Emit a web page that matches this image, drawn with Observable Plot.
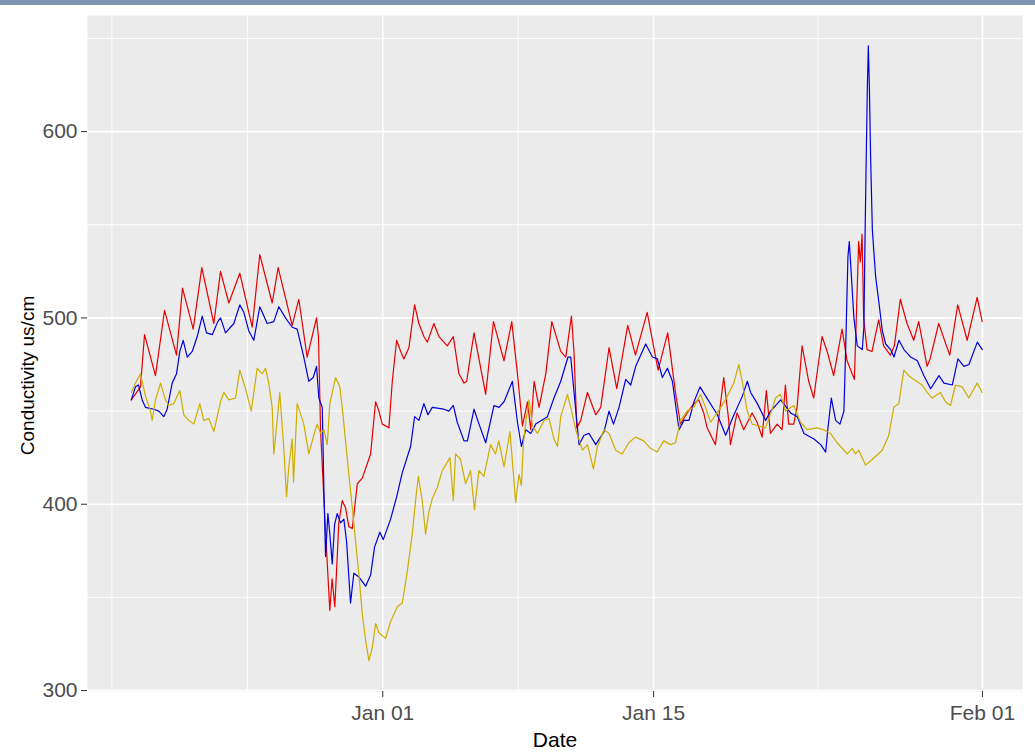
<!DOCTYPE html>
<html>
<head>
<meta charset="utf-8">
<script src="https://cdn.jsdelivr.net/npm/d3@7"></script>
<script src="https://cdn.jsdelivr.net/npm/@observablehq/plot@0.6"></script>
<style>
html, body { margin: 0; padding: 0; background: #ffffff; }
#bar { height: 5px; background: #7d95b3; }
#chart svg { display: block; }
</style>
</head>
<body>
<div id="bar"></div>
<div id="chart"></div>
<script>
// Series start time (UTC) and readings as [hours since start, conductivity]
const seriesStart = "2017-12-19T00:00Z";

const redSeries = [[0,456],[11.4,463],[16.4,491],[30,469],[41.2,504],[56.1,480],[63.5,516],[76.8,494],[87.5,527],[102.4,497],[110.7,525],[121,508],[134.6,524],[150,495],[159.4,534],[174.8,508],[182.2,527],[199.6,496],[207.8,510],[218.2,479],[229.8,500],[232.2,490],[234.8,440],[239.8,395],[246.3,343],[249.1,360],[252.5,345],[257.5,390],[261.7,402],[265.8,398],[269.9,388],[274.2,387],[280.4,411],[286.6,414],[296.9,427],[303.1,455],[307.2,450],[311.4,443],[319.6,441],[323.8,466],[329.2,488],[334.2,482],[338.2,478],[344.4,484],[351.5,507],[356.8,497],[363,490],[367.3,487],[375.4,497],[381.6,490],[392.1,485],[399.5,490],[406.5,470],[412.8,465],[416.1,466],[425.2,492],[439.7,459],[449.3,498],[462.4,477],[472,498],[479.1,470],[485.3,442],[491.5,455],[495.6,440],[499.7,466],[505.9,452],[514.2,470],[521.7,498],[532.8,482],[539,479],[546.1,501],[549.3,481],[552.7,441],[557.6,445],[565.9,460],[576.2,448],[582.4,452],[592.7,484],[602.3,462],[615.9,496],[625.5,480],[640,503],[653.6,472],[665.5,492],[675.1,460],[681.3,443],[689.6,449],[697.8,454],[704,456],[710.2,449],[714.4,441],[724.7,432],[735,468],[741.2,445],[743.3,432],[751.6,449],[759.8,440],[770.2,449],[776.4,444],[782.6,436],[787.9,461],[792.9,438],[801.2,443],[807.4,440],[811.5,464],[815.6,443],[821.8,443],[826,452],[832.2,485],[840.4,466],[846.6,457],[857,490],[863.3,482],[871.4,469],[881.8,494],[888,477],[897.1,467],[902.4,541],[904.5,530],[906.6,545],[908.6,500],[912.8,483],[919,482],[927.2,499],[933.4,485],[941.7,480],[946.7,485],[954.1,510],[962.4,497],[970.7,488],[976.9,498],[987.3,474],[991,478],[1001.7,497],[1015.4,480],[1025.3,507],[1037,488],[1049.4,511],[1055.6,498]];

const blueSeries = [[0,456],[5.2,463],[8.9,464],[13.5,456],[17.6,452],[27.9,451],[34.1,450],[40.3,447],[44.5,451],[50.7,465],[56.1,470],[60.2,482],[64.4,488],[69.4,479],[75.6,482],[81.8,490],[88,501],[93.3,492],[100.4,491],[107.3,498],[110.7,500],[116.9,492],[127.2,497],[134.6,507],[139.6,503],[145.8,493],[152,488],[159.4,506],[168.6,497],[176.8,498],[183,506],[191.3,500],[199.6,495],[205.8,494],[214,479],[220.2,466],[225.7,468],[229.8,474],[232.7,457],[236.9,452],[238.9,409],[241,372],[243.9,395],[246.3,384],[249.3,368],[252.2,389],[255.5,395],[259.6,390],[263.7,392],[267.1,380],[272,347],[276.1,363],[282.3,361],[290.7,356],[296.9,362],[301.8,377],[308.4,385],[312.6,381],[321.7,392],[329.2,404],[336.2,417],[346.5,431],[351.5,447],[356.8,445],[363,454],[368,448],[373.4,452],[387.8,451],[394,450],[399.5,453],[404.4,444],[412.8,434],[417,434],[425.2,451],[431.4,443],[439.7,433],[450,453],[456.2,452],[462.4,455],[472.8,466],[479.1,444],[484,431],[489.4,440],[495.6,438],[501.7,443],[516.2,447],[524.4,457],[532.8,466],[541.8,479],[545.2,479],[549.3,460],[555.5,432],[561.7,437],[567.9,438],[576.2,432],[586.5,439],[592.7,450],[598.2,443],[605.1,452],[613.4,467],[619.6,464],[625.8,474],[638.2,486],[646.5,479],[652.7,478],[658.9,468],[665.1,473],[671.3,466],[679.5,440],[685.7,445],[691.9,445],[698.1,455],[705.6,463],[712.6,458],[727.1,448],[737.4,437],[745.7,446],[753.9,454],[758.1,458],[764.3,466],[768.4,460],[776.7,454],[787,445],[793.2,450],[805.6,456],[818,449],[826.3,447],[834.5,438],[847,435],[855.3,432],[861.5,428],[864.3,441],[868.5,457],[873.8,445],[879.2,443],[884.1,450],[886.2,482],[889.1,533],[890.8,541],[893.3,523],[896.5,500],[900.7,485],[906.9,483],[908.9,495],[910.2,540],[911.4,575],[913.2,624],[914.4,646],[915.7,624],[917.3,585],[919.4,547],[923.5,522],[927.6,508],[931.8,493],[935.9,486],[942.1,483],[946.2,479],[952.4,488],[958.6,483],[966.9,479],[975.2,477],[983.4,469],[991.7,462],[1002,469],[1008.2,465],[1018.6,464],[1025.6,478],[1033,474],[1039.2,475],[1049.6,487],[1055.8,483]];

const goldSeries = [[0,460],[5.2,465],[11.4,470],[17.6,458],[23.8,450],[25.9,445],[30,456],[36.2,465],[42.4,456],[46.5,453],[52.7,454],[60.2,461],[65.1,448],[71.3,445],[77.5,443],[85,454],[89.9,445],[96.1,446],[102.4,439],[110.7,455],[114.8,460],[121,456],[129.3,457],[134.6,472],[141.7,462],[148.8,450],[156.2,473],[162.4,470],[166.5,473],[170.6,465],[174.8,452],[176.8,427],[181,445],[184.2,460],[189.2,430],[192.6,404],[195.4,420],[199.6,435],[201.3,412],[205.8,454],[214,443],[220.2,427],[226.4,437],[230.6,443],[234.8,438],[238.9,440],[243.1,432],[246.3,454],[253.4,468],[258.7,463],[261.7,452],[265.8,434],[269.9,416],[274.2,398],[278.3,380],[282.4,362],[286.6,341],[290.7,327],[294.8,316],[299,323],[303.1,336],[307.2,331],[315.5,328],[321.7,337],[330,345],[336.2,347],[342.4,364],[348.6,384],[352.7,402],[356.1,415],[361,402],[365.1,384],[369.2,396],[373.4,403],[379.6,409],[385.8,418],[389.9,421],[395.3,425],[399.5,402],[402.3,427],[408.5,424],[414.7,411],[420.9,418],[425.8,397],[431.2,418],[437.4,415],[445.7,432],[451.9,427],[456,434],[462.4,420],[469.8,439],[476.9,401],[481,416],[484,410],[486.5,433],[489.4,444],[493.5,456],[497.7,442],[503.9,438],[512.1,445],[518.3,446],[524.4,435],[528.7,431],[532.8,447],[541.1,459],[545.2,452],[551.4,440],[559.7,429],[565.9,432],[573.3,419],[578.3,431],[586.5,440],[592.7,438],[601,429],[609,427],[617.2,433],[625.5,436],[635.8,434],[644.1,430],[652.4,428],[660.6,434],[668.9,432],[675.1,433],[681.3,445],[689.7,450],[697.8,452],[706.2,459],[712.4,452],[718.6,444],[726.9,449],[737.2,456],[747.5,465],[753.7,475],[757.9,466],[764.1,450],[770.3,443],[778.5,442],[786.8,441],[795.1,451],[799.2,457],[805.4,459],[811.6,450],[821.9,453],[830.2,444],[838.5,440],[850.9,441],[859.1,440],[867.4,438],[875.7,433],[888.2,427],[894.4,430],[898.5,427],[902.5,429],[910.9,421],[919.2,424],[931.6,429],[939.8,437],[946,452],[952.2,454],[958.4,472],[964.6,469],[970.8,467],[981.2,464],[987.4,460],[993.6,457],[1003.9,460],[1010.1,455],[1016.3,453],[1022.5,464],[1030.8,463],[1039,457],[1049.4,465],[1055.6,460]];

// Series keys (not CSS colour names, so the colour scale maps them)
const seriesNames = ["Series A", "Series B", "Series C"];
const seriesColors = ["#e60000", "#0000dd", "#cdad00"];

const yMajorTicks = [300, 400, 500, 600];
const yMinorTicks = [350, 450, 550, 650];
const xMajorTicks = ["2018-01-01T00:00Z", "2018-01-15T00:00Z", "2018-02-01T00:00Z"];
const xMinorTicks = ["2017-12-18T00:00Z", "2017-12-25T00:00Z", "2018-01-08T00:00Z", "2018-01-23T12:00Z"];
const xDomain = ["2017-12-16T17:40Z", "2018-02-03T01:40Z"];
const yDomain = [299.5, 662.3];

const xLabel = "Date";
const yLabel = "Conductivity us/cm";

// Build the long table
const t0 = new Date(seriesStart).getTime();
const allSeries = [redSeries, blueSeries, goldSeries];
const rows = [];
allSeries.forEach((s, i) => {
  s.forEach(([h, v]) => rows.push({series: seriesNames[i], date: new Date(t0 + h * 3600e3), value: v}));
});

const toDates = arr => arr.map(d => new Date(d));

const chart = Plot.plot({
  width: 1035,
  height: 750,
  marginLeft: 87,
  marginRight: 13,
  marginTop: 10,
  marginBottom: 64,
  style: {fontFamily: "'Liberation Sans', Arial, sans-serif", background: "#ffffff"},
  x: {type: "utc", domain: toDates(xDomain)},
  y: {domain: yDomain},
  color: {type: "ordinal", domain: seriesNames, range: seriesColors},
  marks: [
    Plot.frame({fill: "#ebebeb", stroke: "none"}),
    Plot.ruleY(yMinorTicks, {stroke: "#ffffff", strokeWidth: 0.9}),
    Plot.ruleX(toDates(xMinorTicks), {stroke: "#ffffff", strokeWidth: 0.9}),
    Plot.ruleY(yMajorTicks, {stroke: "#ffffff", strokeWidth: 1.6}),
    Plot.ruleX(toDates(xMajorTicks), {stroke: "#ffffff", strokeWidth: 1.6}),
    Plot.line(rows, {x: "date", y: "value", z: "series", stroke: "series", strokeWidth: 1.2, curve: "linear"}),
    Plot.axisX(toDates(xMajorTicks), {
      tickFormat: d3.utcFormat("%b %d"), tickSize: 6, tickPadding: 8,
      fontSize: 21, fill: "#4d4d4d", stroke: "#333333", label: null
    }),
    Plot.axisY(yMajorTicks, {
      tickSize: 6, tickPadding: 4, fontSize: 21, fill: "#4d4d4d", stroke: "#333333", label: null
    }),
    Plot.text([xLabel], {frameAnchor: "bottom", dy: 49, fontSize: 21, fill: "#000000", textAnchor: "middle", lineAnchor: "middle"}),
    Plot.text([yLabel], {frameAnchor: "left", dx: -60, dy: 22, rotate: -90, fontSize: 19, fill: "#000000", textAnchor: "middle", lineAnchor: "middle"})
  ]
});

document.getElementById("chart").appendChild(chart);
</script>
</body>
</html>
